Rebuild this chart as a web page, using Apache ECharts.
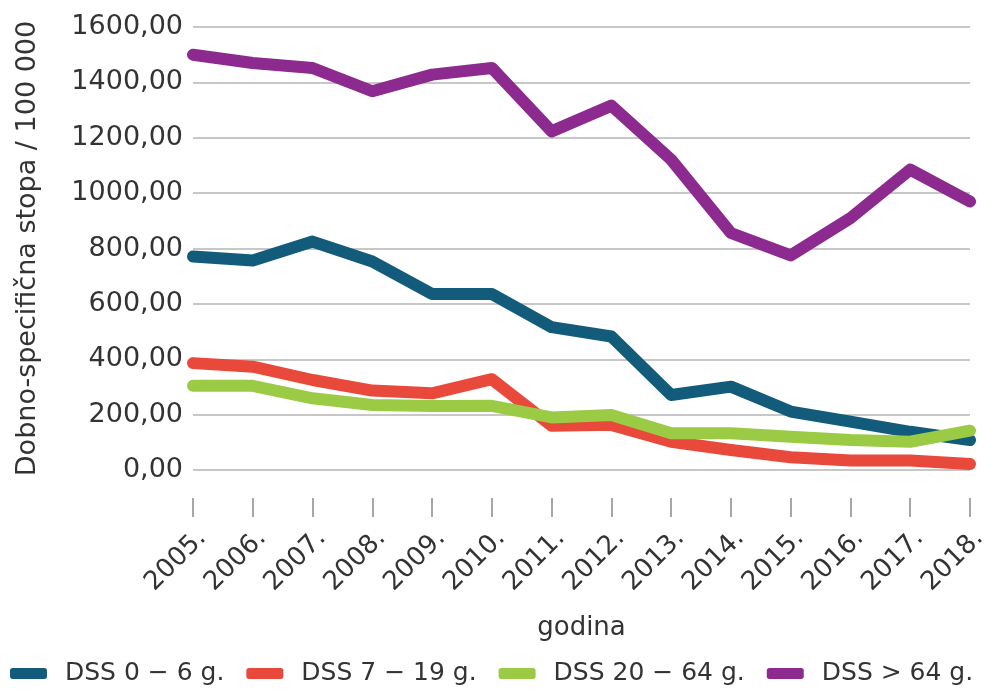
<!DOCTYPE html>
<html>
<head>
<meta charset="utf-8">
<script src="https://cdn.jsdelivr.net/npm/echarts@6/dist/echarts.min.js"></script>
<style>
  html, body { margin: 0; padding: 0; background: #fff; }
  #chart { width: 994px; height: 691px; }
</style>
</head>
<body>
<div id="chart"></div>
<script>
  // Data
  var years = ['2005.', '2006.', '2007.', '2008.', '2009.', '2010.', '2011.',
               '2012.', '2013.', '2014.', '2015.', '2016.', '2017.', '2018.'];
  var dss0to6 = [771, 757, 825, 753, 636, 636, 516, 482, 271, 301, 211, 175, 138, 108];
  var dss7to19 = [386, 373, 325, 287, 277, 328, 160, 163, 102, 72, 46, 34, 34, 22];
  var dss20to64 = [304, 304, 259, 235, 231, 232, 190, 199, 133, 133, 120, 108, 102, 142];
  var dssOver64 = [1500, 1470, 1452, 1368, 1428, 1452, 1223, 1316, 1121, 856, 775, 910, 1085, 970];

  var fontFamily = '"DejaVu Sans", sans-serif';
  var textColor = '#333333';

  function lineSeries(name, color, data) {
    return {
      name: name,
      type: 'line',
      data: data,
      symbol: 'none',
      color: color,
      lineStyle: { width: 12, color: color, cap: 'round', join: 'round' }
    };
  }

  var chart = echarts.init(document.getElementById('chart'));
  var option = {
    backgroundColor: '#ffffff',
    animation: false,
    textStyle: { fontFamily: fontFamily, color: textColor },
    grid: { left: 193, right: 24, top: 27, bottom: 221 },
    legend: {
      left: 5,
      top: 656,
      icon: 'roundRect',
      itemWidth: 37,
      itemHeight: 11,
      itemGap: 22,
      textStyle: { fontFamily: fontFamily, fontSize: 25, color: textColor, padding: [0, 0, 0, 13] },
      data: ['DSS 0 − 6 g.', 'DSS 7 − 19 g.', 'DSS 20 − 64 g.', 'DSS > 64 g.']
    },
    xAxis: {
      type: 'category',
      data: years,
      boundaryGap: false,
      name: 'godina',
      nameLocation: 'middle',
      nameGap: 145,
      nameTextStyle: { fontFamily: fontFamily, fontSize: 26, color: textColor },
      axisLine: { show: false },
      // tick drawn only between 28px and 47px below the axis (gap, then dash)
      axisTick: { show: true, length: 47, alignWithLabel: true,
                  lineStyle: { color: '#8a8a8a', width: 1.5, type: [0, 28, 19, 0] } },
      axisLabel: { rotate: 45, margin: 55, verticalAlign: 'top', fontFamily: fontFamily, fontSize: 26, color: textColor, interval: 0 },
      splitLine: { show: false }
    },
    yAxis: {
      type: 'value',
      min: 0,
      max: 1600,
      interval: 200,
      name: 'Dobno-specifična stopa / 100 000',
      nameLocation: 'middle',
      nameRotate: 90,
      nameGap: 152,
      nameTextStyle: { fontFamily: fontFamily, fontSize: 27, color: textColor },
      axisLine: { show: false },
      axisTick: { show: false },
      axisLabel: {
        margin: 10,
        fontFamily: fontFamily,
        fontSize: 27,
        color: textColor,
        formatter: function (v) { return v.toFixed(2).replace('.', ','); }
      },
      splitLine: { show: true, lineStyle: { color: '#b5b5b5', width: 1.5 } }
    },
    series: [
      lineSeries('DSS 0 − 6 g.', '#135b7b', dss0to6),
      lineSeries('DSS 7 − 19 g.', '#e9493a', dss7to19),
      lineSeries('DSS 20 − 64 g.', '#9bcb45', dss20to64),
      lineSeries('DSS > 64 g.', '#8c2a8f', dssOver64)
    ]
  };
  chart.setOption(option);
</script>
</body>
</html>
